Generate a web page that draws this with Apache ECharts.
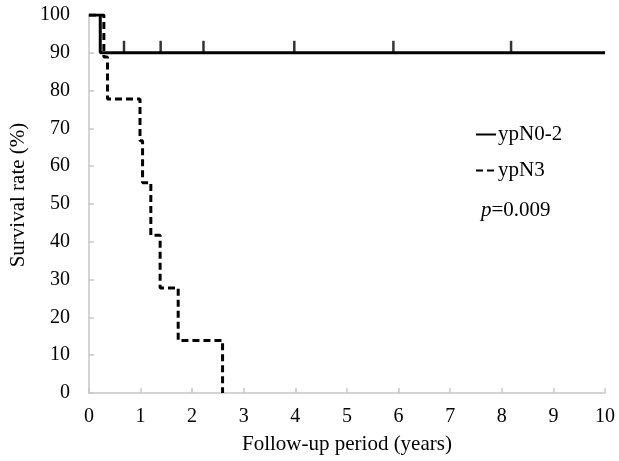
<!DOCTYPE html>
<html>
<head>
<meta charset="utf-8">
<script src="https://cdn.jsdelivr.net/npm/echarts@6/dist/echarts.min.js"></script>
<style>
html,body{margin:0;padding:0;background:#fff;}
#c{width:619px;height:461px;}
</style>
</head>
<body>
<div id="c"></div>
<script>
// Kaplan–Meier step data (time in years, survival in %)
const groupNames = ['ypN0-2', 'ypN3'];
const n02Times = [0, 0.22, 10];
const n02Surv = [100, 90, 90];
const n02CensorTimes = [0.68, 1.39, 2.22, 3.98, 5.90, 8.18];
const n02CensorSurv = [90, 90, 90, 90, 90, 90];
const n3Times = [0, 0.29, 0.36, 0.99, 1.04, 1.20, 1.38, 1.73, 2.59];
const n3Surv = [100, 88.9, 77.8, 66.7, 55.6, 41.7, 27.8, 13.9, 0];
const xTicks = [0, 1, 2, 3, 4, 5, 6, 7, 8, 9, 10];
const yTicks = [0, 10, 20, 30, 40, 50, 60, 70, 80, 90, 100];
const pText = '0.009';

const zip = (a, b) => a.map((v, i) => [v, b[i]]);
const FONT = "'Liberation Serif', 'Times New Roman', serif";
const axisGray = '#c6c6c6';

const chart = echarts.init(document.getElementById('c'));
chart.setOption({
  animation: false,
  backgroundColor: '#fff',
  grid: { left: 88, right: 14, top: 15, bottom: 68, containLabel: false },
  xAxis: {
    type: 'value',
    min: xTicks[0], max: xTicks[xTicks.length - 1], interval: 1,
    name: 'Follow-up period (years)',
    nameLocation: 'middle', nameGap: 41,
    nameTextStyle: { fontFamily: FONT, fontSize: 21, color: '#000' },
    axisLine: { show: true, lineStyle: { color: axisGray, width: 1.5 } },
    axisTick: { show: true, inside: true, length: 5, lineStyle: { color: axisGray, width: 1.5 } },
    axisLabel: { fontFamily: FONT, fontSize: 20, color: '#000', margin: 14 },
    splitLine: { show: false }
  },
  yAxis: {
    type: 'value',
    min: yTicks[0], max: yTicks[yTicks.length - 1], interval: 10,
    name: 'Survival rate (%)',
    nameLocation: 'middle', nameGap: 59, nameRotate: 90,
    nameTextStyle: { fontFamily: FONT, fontSize: 21, color: '#000', padding: [0, 0, 0, 18] },
    axisLine: { show: true, lineStyle: { color: axisGray, width: 1.5 } },
    axisTick: { show: true, inside: true, length: 5, lineStyle: { color: axisGray, width: 1.5 } },
    axisLabel: { fontFamily: FONT, fontSize: 20, color: '#000', margin: 19 },
    splitLine: { show: false }
  },
  legend: {
    data: groupNames,
    orient: 'vertical',
    left: 470, top: 119,
    itemWidth: 20, itemHeight: 14, itemGap: 15,
    itemStyle: { opacity: 0 },
    textStyle: { fontFamily: FONT, fontSize: 21, color: '#000', padding: [0, 0, 0, -3] }
  },
  graphic: [{
    type: 'text',
    left: 481, top: 200,
    style: {
      text: '{i|p}=' + pText,
      font: '21px ' + FONT,
      fill: '#000',
      rich: { i: { fontFamily: FONT, fontSize: 21, fontStyle: 'italic', fill: '#000' } }
    }
  }],
  series: [
    {
      name: groupNames[1], type: 'line', step: 'end',
      data: zip(n3Times, n3Surv),
      symbol: 'none',
      lineStyle: { color: '#000', width: 3, type: [7, 4] },
      itemStyle: { color: '#000' },
      z: 2
    },
    {
      name: groupNames[0], type: 'line', step: 'end',
      data: zip(n02Times, n02Surv),
      symbol: 'none',
      lineStyle: { color: '#000', width: 3, type: 'solid' },
      itemStyle: { color: '#000' },
      z: 3
    },
    {
      name: 'censored', type: 'scatter',
      data: zip(n02CensorTimes, n02CensorSurv),
      symbol: 'rect', symbolSize: [2.5, 12], symbolOffset: [0, '-50%'],
      itemStyle: { color: '#000' },
      silent: true, z: 4
    }
  ]
});
</script>
</body>
</html>
